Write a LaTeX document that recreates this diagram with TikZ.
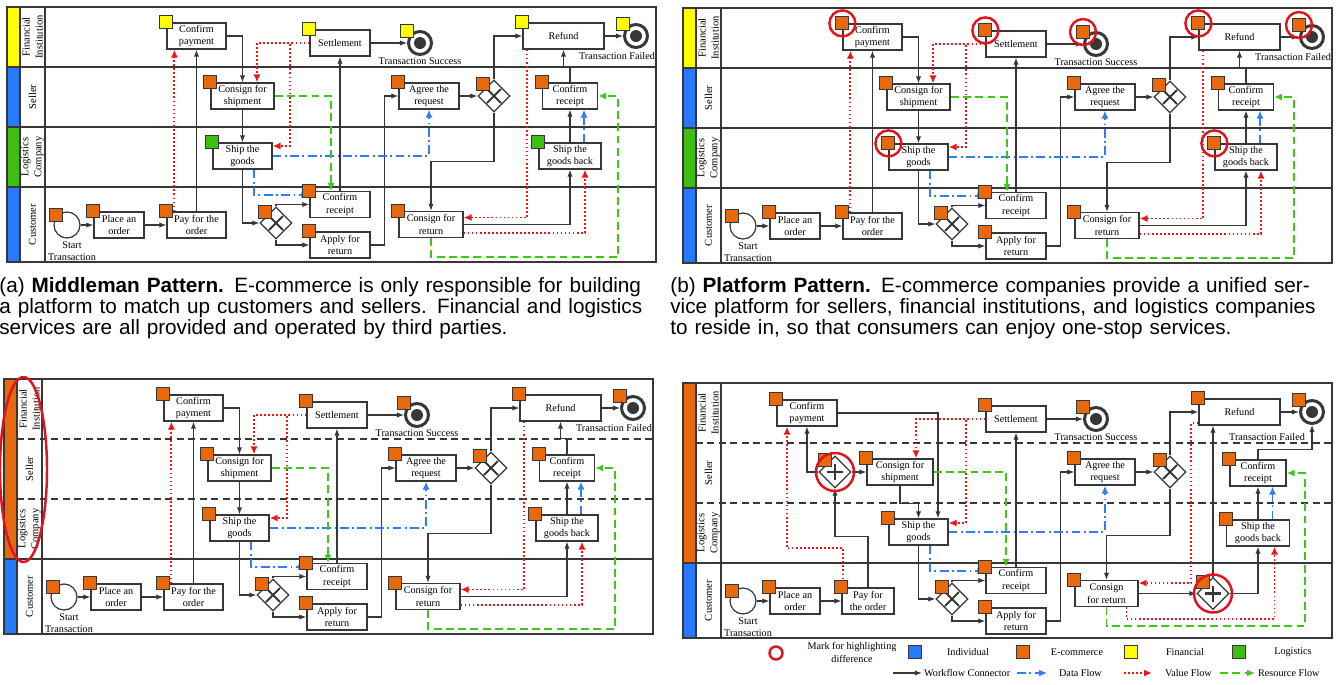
\documentclass[tikz,border=0pt]{standalone}
\usepackage{fontspec}
\setmainfont{Liberation Serif}
\setsansfont{Liberation Sans}
\usetikzlibrary{positioning,arrows.meta,calc,shapes.geometric}
\definecolor{linec}{RGB}{55,55,55}
\definecolor{ecom}{RGB}{232,104,12}
\definecolor{indiv}{RGB}{41,121,255}
\definecolor{fin}{RGB}{255,255,0}
\definecolor{logi}{RGB}{62,190,16}
\definecolor{valuec}{RGB}{240,20,20}
\definecolor{datac}{RGB}{45,125,255}
\definecolor{resc}{RGB}{60,200,20}
\definecolor{markc}{RGB}{225,20,30}
\newlength{\pxu}
\setlength{\pxu}{0.02cm}
\setlength{\parindent}{0pt}
\newcommand{\nodefont}{\fontsize{5.8}{7.2}\selectfont}
\newcommand{\lanefont}{\fontsize{6}{7.4}\selectfont}
\newcommand{\capfont}{\sffamily\fontsize{11.8}{12}\selectfont}

% swim lanes of one panel: bar colours, separator style, separator start
\newcommand{\lanes}[6]{%
  \fill[#1] (7,7) rectangle (20,67);
  \fill[#2] (7,67) rectangle (20,127);
  \fill[#3] (7,127) rectangle (20,187);
  \fill[#4] (7,187) rectangle (20,262);
  \draw[#5] (#6,67) -- (656,67) (#6,127) -- (656,127);
  \draw[lane] (7,187) -- (656,187) (20,7) -- (20,262) (45,7) -- (45,262);
  \draw[lane] (7,7) rectangle (656,262);
  \node[lanelbl] (fi) at (32.5,37) {Financial\\Institution};
  \node[lanelbl] (sel) at (32.5,97) {Seller};
  \node[lanelbl] (lc) at (32.5,157) {Logistics\\Company};
  \node[lanelbl] (cus) at (32.5,224.5) {Customer};
}
\newcommand{\xmark}[1]{\draw[gwline] ([shift={(-7,-7)}]#1.center) -- ([shift={(7,7)}]#1.center)
  ([shift={(-7,7)}]#1.center) -- ([shift={(7,-7)}]#1.center);}
\newcommand{\plusmark}[1]{\draw[gwline, line width=1.6pt] ([xshift=-8\pxu]#1.center) -- ([xshift=8\pxu]#1.center)
  ([yshift=-8\pxu]#1.center) -- ([yshift=8\pxu]#1.center);}
\newcommand{\evdot}[1]{\fill[linec] (#1) circle (6\pxu);}

% common process of panels a-c: financial tag colour, logistics tag colour
\newcommand{\basepanel}[2]{%
  \node[startev] (start) at (67,225) {};
  \node[evlbl] (startl) at (72,251) {Start\\Transaction};
  \node[task, minimum width=50\pxu] (place) at (119,225) {Place an\\order};
  \node[task, minimum width=59\pxu] (pay) at (196.5,225) {Pay for the\\order};
  \node[task, minimum width=59\pxu] (cpay) at (196.5,36) {Confirm\\payment};
  \node[task, minimum width=63\pxu] (cship) at (242.5,96) {Consign for\\shipment};
  \node[task, minimum width=59\pxu] (ship) at (242.5,156) {Ship the\\goods};
  \node[gw] (xora) at (276,223) {};
  \node[task, minimum width=60\pxu] (crec) at (340,204.5) {Confirm\\receipt};
  \node[task, minimum width=60\pxu] (apply) at (340,245) {Apply for\\return};
  \node[task, minimum width=60\pxu] (settle) at (340,43) {Settlement};
  \node[endev] (endok) at (420,43) {};
  \node[evlbl] (endokl) at (420,61) {Transaction Success};
  \node[task, minimum width=60\pxu] (agree) at (429,96) {Agree the\\request};
  \node[gw] (xorb) at (494,96) {};
  \node[task, minimum width=81\pxu] (refund) at (563.5,36) {Refund};
  \node[endev] (endfail) at (636,36) {};
  \node[evlbl] (endfaill) at (617,56) {Transaction Failed};
  \node[task, minimum width=55\pxu] (crecb) at (570,96) {Confirm\\receipt};
  \node[task, minimum width=62\pxu] (shipb) at (570,156) {Ship the\\goods back};
  \node[task, minimum width=64\pxu] (cret) at (431,224.5) {Consign for\\return};
  \xmark{xora} \xmark{xorb} \evdot{endok} \evdot{endfail}
  % workflow
  \draw[wf] (start) -- (place);
  \draw[wf] (place) -- (pay);
  \draw[wf] (pay) -- (cpay);
  \draw[wf] (cpay.east) -| (cship.north);
  \draw[wf] (cship) -- (ship);
  \draw[wf] (ship.south) |- (xora.west);
  \draw[wf] (xora.north) |- (crec.west);
  \draw[wf] (xora.south) |- (apply.west);
  \draw[wf] (crec) -- (settle);
  \draw[wf] (settle) -- (endok);
  \draw[wf] (apply.east) -- ++(14,0) |- (agree.west);
  \draw[wf] (agree) -- (xorb);
  \draw[wf] (xorb.north) |- (refund.west);
  \draw[wf] (xorb.south) -- ++(0,49) -| (cret.north);
  \draw[wf] (cret.east) -| (shipb.south);
  \draw[wf] (shipb) -- (crecb);
  \draw[wf] (crecb.north) -- ++(0,-16) -| (refund.south);
  \draw[wf] (refund) -- (endfail);
  % value
  \draw[val] ([xshift=8\pxu]pay.north west) -- ([xshift=8\pxu]cpay.south west);
  \draw[val] (settle.west) -| ([xshift=14.5\pxu]cship.north);
  \draw[val] (settle.west) -- ++(-19,0) |- ([yshift=10\pxu]ship.east);
  \draw[val] ([xshift=5\pxu]refund.south west) |- ([yshift=7\pxu]cret.east);
  \draw[val] ([yshift=-8.5\pxu]cret.east) -| ([xshift=15\pxu]shipb.south);
  % data
  \draw[dat] (ship.east) -| (agree.south);
  \draw[dat] ([xshift=11.5\pxu]ship.south) |- ([yshift=9.5\pxu]crec.west);
  \draw[dat] ([xshift=14\pxu]shipb.north) -- ([xshift=14\pxu]shipb.north |- crecb.south);
  % resource
  \draw[res] (cship.east) -| ([xshift=-9\pxu]crec.north);
  \draw[res] (cret.south) -- ++(0,19) -| ([xshift=20\pxu]crecb.east) -- (crecb.east);
  % tags
  \node[tag=ecom] (start-t) at ([shift={(-11,-10)}]start.center) {};
  \node[tag=ecom] (place-t) at (place.north west) {};
  \node[tag=ecom] (pay-t) at (pay.north west) {};
  \node[tag=#1] (cpay-t) at (cpay.north west) {};
  \node[tag=ecom] (cship-t) at (cship.north west) {};
  \node[tag=#2] (ship-t) at (ship.north west) {};
  \node[tag=ecom] (xora-t) at ([shift={(-11,-11)}]xora.center) {};
  \node[tag=ecom] (crec-t) at (crec.north west) {};
  \node[tag=ecom] (apply-t) at (apply.north west) {};
  \node[tag=#1] (settle-t) at (settle.north west) {};
  \node[tag=#1] (endok-t) at ([shift={(-13,-12)}]endok.center) {};
  \node[tag=ecom] (agree-t) at (agree.north west) {};
  \node[tag=ecom] (xorb-t) at ([shift={(-11,-12)}]xorb.center) {};
  \node[tag=#1] (refund-t) at (refund.north west) {};
  \node[tag=#1] (endfail-t) at ([shift={(-13,-12)}]endfail.center) {};
  \node[tag=ecom] (crecb-t) at (crecb.north west) {};
  \node[tag=#2] (shipb-t) at (shipb.north west) {};
  \node[tag=ecom] (cret-t) at (cret.north west) {};
}

\begin{document}
\begin{tikzpicture}[x=0.02cm, y=-0.02cm,
    task/.style={draw=linec, line width=0.7pt, fill=white, minimum height=26\pxu, inner sep=0.5pt, align=center, font=\nodefont},
    startev/.style={circle, draw=linec, line width=0.7pt, fill=white, minimum size=26\pxu, inner sep=0pt},
    endev/.style={circle, draw=linec, line width=1.7pt, fill=white, minimum size=23\pxu, inner sep=0pt},
    gw/.style={diamond, draw=linec, line width=0.7pt, fill=white, minimum size=32\pxu, inner sep=0pt},
    gwline/.style={draw=linec, line width=1.1pt},
    evlbl/.style={align=center, inner sep=0pt, font=\nodefont},
    lanelbl/.style={rotate=90, align=center, inner sep=0pt, font=\lanefont},
    tag/.style={draw=linec, line width=0.5pt, fill=#1, minimum size=13\pxu, inner sep=0pt},
    hl/.style={circle, draw=markc, line width=1.4pt, minimum size=26\pxu, inner sep=0pt},
    lane/.style={draw=linec, line width=0.8pt},
    sepdash/.style={draw=linec, line width=0.8pt, dash pattern=on 4pt off 2.5pt},
    wf/.style={draw=linec, line width=0.6pt, -{Latex[length=4pt,width=3pt]}},
    val/.style={draw=valuec, line width=1.1pt, dash pattern=on 1pt off 1.3pt, -{Latex[length=4.5pt,width=4pt]}},
    dat/.style={draw=datac, line width=1pt, dash pattern=on 5pt off 2pt on 1pt off 2pt, -{Latex[length=4.5pt,width=4pt]}},
    res/.style={draw=resc, line width=1pt, dash pattern=on 4.5pt off 2.5pt, -{Latex[length=4.5pt,width=4pt]}},
    capnode/.style={font=\capfont, inner sep=0pt, text width=664\pxu, anchor=base west},
    lgtext/.style={font=\nodefont, align=center, inner sep=1pt}
  ]
  \useasboundingbox (0,0) rectangle (1336,684);

  % (a) middleman pattern
  \begin{scope}[name prefix=a-]
    \lanes{fin}{indiv}{logi}{indiv}{lane}{7}
    \basepanel{fin}{logi}
  \end{scope}
  \node[capnode] (capa) at (-1,292) {\makebox[664\pxu][s]{(a) \textbf{Middleman Pattern.} E-commerce is only responsible for building}\\
    \makebox[664\pxu][s]{a platform to match up customers and sellers. Financial and logistics}\\
    services are all provided and operated by third parties.};

  % (b) platform pattern
  \begin{scope}[shift={(676,1)}, name prefix=b-]
    \lanes{fin}{indiv}{logi}{indiv}{lane}{7}
    \basepanel{ecom}{ecom}
    \foreach \t in {cpay,settle,endok,ship,refund,endfail,shipb}
      \node[hl] (\t-h) at (\t-t) {};
  \end{scope}
  \node[capnode] (capb) at (670,292) {\makebox[664\pxu][s]{(b) \textbf{Platform Pattern.} E-commerce companies provide a unified ser-}\\
    \makebox[664\pxu][s]{vice platform for sellers, financial institutions, and logistics companies}\\
    to reside in, so that consumers can enjoy one-stop services.};

  % (c) one e-commerce company for all services
  \begin{scope}[shift={(-3,372)}, name prefix=c-]
    \lanes{ecom}{ecom}{ecom}{indiv}{sepdash}{20}
    \basepanel{ecom}{ecom}
    \node[ellipse, draw=markc, line width=1.4pt, minimum width=47\pxu, minimum height=185\pxu] (lanes-h) at (26.5,97.5) {};
  \end{scope}

  % (d) parallel gateways
  \begin{scope}[shift={(676,376)}, name prefix=d-]
    \lanes{ecom}{ecom}{ecom}{indiv}{sepdash}{20}
    \node[startev] (start) at (67,225) {};
    \node[evlbl] (startl) at (72,251) {Start\\Transaction};
    \node[task, minimum width=50\pxu] (place) at (119,225) {Place an\\order};
    \node[task, minimum width=52\pxu] (pay) at (192,225) {Pay for\\the order};
    \node[task, minimum width=60\pxu] (cpay) at (131,37) {Confirm\\payment};
    \node[gw] (anda) at (159,96) {};
    \node[task, minimum width=66\pxu] (cship) at (224,96) {Consign for\\shipment};
    \node[task, minimum width=59\pxu] (ship) at (242.5,156) {Ship the\\goods};
    \node[gw] (xora) at (276,223) {};
    \node[task, minimum width=60\pxu] (crec) at (340,204.5) {Confirm\\receipt};
    \node[task, minimum width=60\pxu] (apply) at (340,245) {Apply for\\return};
    \node[task, minimum width=60\pxu] (settle) at (340,43) {Settlement};
    \node[endev] (endok) at (420,43) {};
    \node[evlbl] (endokl) at (420,61) {Transaction Success};
    \node[task, minimum width=60\pxu] (agree) at (429,96) {Agree the\\request};
    \node[gw] (xorb) at (494,96) {};
    \node[task, minimum width=81\pxu] (refund) at (563.5,36) {Refund};
    \node[endev] (endfail) at (636,36) {};
    \node[evlbl] (endfaill) at (591,61) {Transaction Failed};
    \node[task, minimum width=56\pxu] (crecb) at (582,97) {Confirm\\receipt};
    \node[task, minimum width=63\pxu] (shipb) at (582,157) {Ship the\\goods back};
    \node[task, minimum width=63\pxu] (cret) at (430.5,217.5) {Consign\\for return};
    \node[gw] (andb) at (537,217.5) {};
    \xmark{xora} \xmark{xorb} \plusmark{anda} \plusmark{andb} \evdot{endok} \evdot{endfail}
    % workflow
    \draw[wf] (start) -- (place);
    \draw[wf] (place) -- (pay);
    \draw[wf] (pay.north) -- ++(0,-51) -| (anda.south);
    \draw[wf] (anda.west) -| (cpay.south);
    \draw[wf] (anda) -- (cship);
    \draw[wf] (cpay.east) -| ([xshift=19.5\pxu]ship.north);
    \draw[wf] (cship.south) -- ++(0,18) -| (ship.north);
    \draw[wf] (ship.south) |- (xora.west);
    \draw[wf] (xora.north) |- (crec.west);
    \draw[wf] (xora.south) |- (apply.west);
    \draw[wf] (crec) -- (settle);
    \draw[wf] (settle) -- (endok);
    \draw[wf] (apply.east) -- ++(14,0) |- (agree.west);
    \draw[wf] (agree) -- (xorb);
    \draw[wf] (xorb.north) |- (refund.west);
    \draw[wf] (xorb.south) -- ++(0,47) -| (cret.north);
    \draw[wf] (cret) -- (andb);
    \draw[wf] (andb) -- (andb |- refund.south);
    \draw[wf] (andb.east) -| (shipb.south);
    \draw[wf] (shipb) -- (crecb);
    \draw[wf] (crecb.north) -- ++(0,-10) -| (endfail.south);
    \draw[wf] (refund) -- (endfail);
    % value
    \draw[val] ([xshift=2\pxu]pay.north west) -- ++(0,-39) -| ([xshift=-20\pxu]cpay.south);
    \draw[val] (settle.west) -| ([xshift=16\pxu]cship.north);
    \draw[val] (settle.west) -- ++(-19,0) |- ([yshift=9\pxu]ship.east);
    \draw[val] ([yshift=-11\pxu]refund.west) -- ++(-7,0) |- ([yshift=10.5\pxu]cret.east);
    \draw[val] ([xshift=20\pxu]cret.south) -- ++(0,12) -| ([xshift=16.5\pxu]shipb.south);
    % data
    \draw[dat] (ship.east) -| (agree.south);
    \draw[dat] ([xshift=11.5\pxu]ship.south) |- ([yshift=9.5\pxu]crec.west);
    \draw[dat] ([xshift=14.5\pxu]shipb.north) -- ([xshift=14.5\pxu]shipb.north |- crecb.south);
    % resource
    \draw[res] (cship.east) -| ([xshift=-10\pxu]crec.north);
    \draw[res] (cret.south) -- ++(0,19) -| ([xshift=18\pxu]crecb.east) -- (crecb.east);
    % tags
    \node[tag=ecom] (start-t) at ([shift={(-11,-10)}]start.center) {};
    \foreach \t in {place,pay,cpay,cship,ship,crec,apply,settle,agree,refund,crecb,shipb,cret}
      \node[tag=ecom] (\t-t) at (\t.north west) {};
    \foreach \t in {xora,xorb,anda,andb}
      \node[tag=ecom] (\t-t) at ([shift={(-10,-12)}]\t.center) {};
    \node[tag=ecom] (endok-t) at ([shift={(-13,-12)}]endok.center) {};
    \node[tag=ecom] (endfail-t) at ([shift={(-13,-12)}]endfail.center) {};
    \node[hl, minimum size=38\pxu] (anda-h) at (anda) {};
    \node[hl, minimum size=38\pxu] (andb-h) at (andb) {};
  \end{scope}

  % legend
  \node[circle, draw=markc, line width=1.4pt, minimum size=13\pxu, inner sep=0pt] (lg-mark) at (776,653) {};
  \node[lgtext] (lg-markt) at (852,652.5) {Mark for highlighting\\difference};
  \node[tag=indiv] (lg-ind) at (915,652) {};
  \node[lgtext] (lg-indt) at (968,652) {Individual};
  \node[tag=ecom] (lg-eco) at (1023,652) {};
  \node[lgtext] (lg-ecot) at (1077,652) {E-commerce};
  \node[tag=fin] (lg-fin) at (1131,652) {};
  \node[lgtext] (lg-fint) at (1185,652) {Financial};
  \node[tag=logi] (lg-log) at (1239,652) {};
  \node[lgtext] (lg-logt) at (1293,652) {Logistics};
  \node[lgtext, anchor=west] (lg-wf) at (922,673) {Workflow Connector};
  \draw[wf, line width=1.1pt] ([xshift=-29\pxu]lg-wf.west) -- (lg-wf.west);
  \node[lgtext, anchor=west] (lg-data) at (1057,673) {Data Flow};
  \draw[dat] ([xshift=-40\pxu]lg-data.west) -- ([xshift=-10\pxu]lg-data.west);
  \node[lgtext, anchor=west] (lg-val) at (1163,673) {Value Flow};
  \draw[val] ([xshift=-39\pxu]lg-val.west) -- ([xshift=-11\pxu]lg-val.west);
  \node[lgtext, anchor=west] (lg-res) at (1256,673) {Resource Flow};
  \draw[res] ([xshift=-36\pxu]lg-res.west) -- ([xshift=-1\pxu]lg-res.west);
\end{tikzpicture}
\end{document}
